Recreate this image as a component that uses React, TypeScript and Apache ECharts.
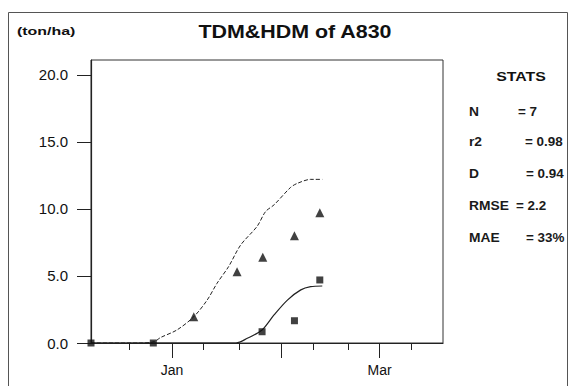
import React, { useEffect, useRef } from "react";
import * as echarts from "echarts";

// x values are days counted from Jan 1 (0 = Jan 1)
const tdmSimDays = [-23, -9, -5, -3.3, 1.4, 6.2, 10, 12.8, 16.1, 19.5, 24.2, 26.6, 29, 33.7, 35.6, 39.4, 42.7];
const tdmSimValues = [0, 0, 0.1, 0.4, 0.97, 1.96, 3.2, 4.45, 5.7, 7.3, 8.7, 9.8, 10.3, 11.6, 11.9, 12.2, 12.2];

const hdmSimDays = [-23, 18.2, 21.4, 25.6, 29, 32.8, 36.6, 39.4, 42.7];
const hdmSimValues = [0, 0, 0.35, 0.97, 2.09, 3.2, 3.96, 4.2, 4.25];

const tdmObsDays = [6.2, 18.5, 25.8, 34.8, 42];
const tdmObsValues = [1.96, 5.32, 6.4, 8.0, 9.72];

const hdmObsDays = [-23, -5.3, 25.6, 34.8, 42];
const hdmObsValues = [0, 0, 0.84, 1.66, 4.7];

const yTicks = [0, 5, 10, 15, 20];
const majorTickDays = [0, 31, 59];
const minorTickDays = [-12, 9, 19, 40, 50, 68];
const monthLabelDays = [0, 59];
const monthLabels = ["Jan", "Mar"];

const statLabels = ["N", "r2", "D", "RMSE", "MAE"];
const statValues = ["= 7", "= 0.98", "= 0.94", "= 2.2", "= 33%"];

const FONT = "'Liberation Sans', Arial, sans-serif";

export default function App() {
  const ref = useRef<HTMLDivElement>(null);
  useEffect(() => {
    if (!ref.current) return;
    const chart = echarts.init(ref.current, undefined, { renderer: "svg" });
    const pair = (xs: number[], ys: number[]) => xs.map((x, i) => [x, ys[i]]);
    const statY = [112, 142, 174, 206, 238];
    const statValX = [518, 525, 526, 516, 526];
    const graphics: any[] = [
      {
        type: "rect",
        shape: { x: 8.5, y: 12.5, width: 559, height: 380 },
        style: { fill: "none", stroke: "#555", lineWidth: 1 },
        silent: true,
      },
      {
        type: "text",
        x: 295,
        y: 31.5,
        scaleX: 1.19,
        style: {
          text: "TDM&HDM of A830",
          font: `bold 18px ${FONT}`,
          fill: "#111",
          textAlign: "center",
          textVerticalAlign: "middle",
        },
      },
      {
        type: "text",
        x: 17,
        y: 31,
        scaleX: 1.45,
        style: {
          text: "(ton/ha)",
          font: `bold 11px ${FONT}`,
          fill: "#111",
          textAlign: "left",
          textVerticalAlign: "middle",
        },
      },
      {
        type: "text",
        x: 521,
        y: 77,
        scaleX: 1.22,
        style: {
          text: "STATS",
          font: `bold 13px ${FONT}`,
          fill: "#111",
          textAlign: "center",
          textVerticalAlign: "middle",
        },
      },
    ];
    statLabels.forEach((l, i) => {
      graphics.push({
        type: "text",
        x: 469,
        y: statY[i],
        scaleX: 1.15,
        style: { text: l, font: `bold 12px ${FONT}`, fill: "#1a1a1a", textAlign: "left", textVerticalAlign: "middle" },
      });
      graphics.push({
        type: "text",
        x: statValX[i],
        y: statY[i],
        scaleX: 1.12,
        style: { text: statValues[i], font: `bold 12px ${FONT}`, fill: "#1a1a1a", textAlign: "left", textVerticalAlign: "middle" },
      });
    });

    chart.setOption({
      animation: false,
      backgroundColor: "#fff",
      grid: {
        left: 91,
        top: 60,
        right: 128,
        bottom: 43,
        show: true,
        borderColor: "#333",
        borderWidth: 1,
        backgroundColor: "transparent",
      },
      xAxis: [
        {
          type: "value",
          min: -23,
          max: 77,
          position: "bottom",
          axisLine: { show: true, onZero: false, lineStyle: { color: "#222", width: 1.2 } },
          axisTick: { show: true, length: 15, customValues: majorTickDays, lineStyle: { color: "#222" } },
          axisLabel: {
            show: true,
            customValues: monthLabelDays,
            margin: 20,
            fontFamily: FONT,
            fontSize: 14,
            color: "#111",
            formatter: (v: number) => monthLabels[monthLabelDays.indexOf(v)] ?? "",
          },
          splitLine: { show: false },
        },
        {
          type: "value",
          min: -23,
          max: 77,
          position: "bottom",
          offset: 0,
          axisLine: { show: false, onZero: false },
          axisTick: { show: true, length: 7, customValues: minorTickDays, lineStyle: { color: "#222" } },
          axisLabel: { show: false },
          splitLine: { show: false },
        },
      ],
      yAxis: {
        type: "value",
        min: 0,
        max: 21.1,
        axisLine: { show: true, onZero: false, lineStyle: { color: "#222", width: 1.2 } },
        axisTick: { show: true, length: 14, customValues: yTicks, lineStyle: { color: "#222" } },
        axisLabel: {
          customValues: yTicks,
          margin: 23,
          fontFamily: FONT,
          fontSize: 15,
          color: "#111",
          formatter: (v: number) => v.toFixed(1),
        },
        splitLine: { show: false },
      },
      series: [
        {
          name: "TDM sim",
          type: "line",
          data: pair(tdmSimDays, tdmSimValues),
          symbol: "none",
          smooth: 0.3,
          lineStyle: { color: "#222", width: 1, type: [4, 2] },
          z: 2,
        },
        {
          name: "HDM sim",
          type: "line",
          data: pair(hdmSimDays, hdmSimValues),
          symbol: "none",
          smooth: 0.3,
          lineStyle: { color: "#222", width: 1.2, type: "solid" },
          z: 2,
        },
        {
          name: "TDM obs",
          type: "scatter",
          data: pair(tdmObsDays, tdmObsValues),
          symbol: "triangle",
          symbolSize: 9,
          itemStyle: { color: "#111" },
          z: 3,
        },
        {
          name: "HDM obs",
          type: "scatter",
          data: pair(hdmObsDays, hdmObsValues),
          symbol: "rect",
          symbolSize: 7,
          itemStyle: { color: "#111" },
          z: 3,
        },
      ],
      graphic: graphics,
    });
    return () => chart.dispose();
  }, []);
  return <div ref={ref} style={{ position: "fixed", left: 0, top: 0, width: 571, height: 386 }} />;
}
